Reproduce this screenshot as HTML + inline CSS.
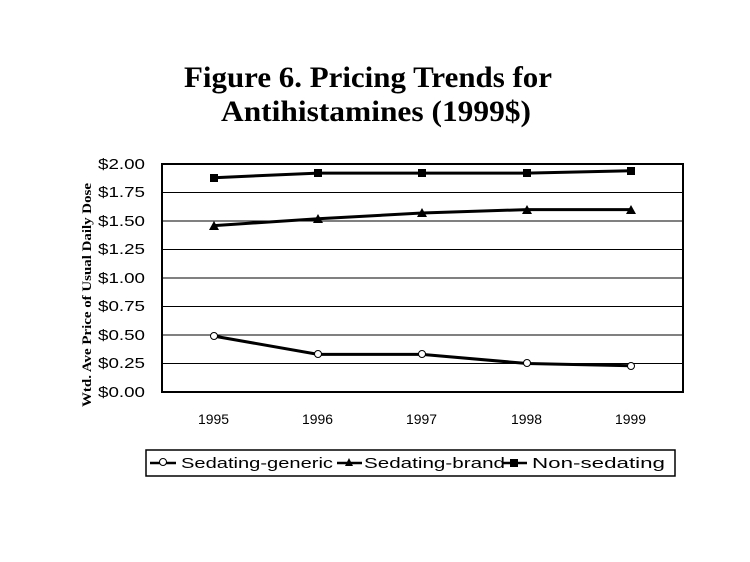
<!DOCTYPE html>
<html><head><style>
body{margin:0;background:#fff;}
svg{display:block;}
</style></head><body>
<svg width="750" height="562" xmlns="http://www.w3.org/2000/svg">
<rect width="750" height="562" fill="#fff"/>
<g font-family="Liberation Serif, serif" font-weight="bold" font-size="30" text-anchor="middle">
<text x="368" y="87" textLength="368" lengthAdjust="spacingAndGlyphs">Figure 6. Pricing Trends for</text>
<text x="376" y="121" textLength="310" lengthAdjust="spacingAndGlyphs">Antihistamines (1999$)</text>
</g>
<g stroke="#000" stroke-width="1">
<line x1="162" y1="192.5" x2="683" y2="192.5"/>
<line x1="162" y1="221" x2="683" y2="221"/>
<line x1="162" y1="249.5" x2="683" y2="249.5"/>
<line x1="162" y1="278" x2="683" y2="278"/>
<line x1="162" y1="306.5" x2="683" y2="306.5"/>
<line x1="162" y1="335" x2="683" y2="335"/>
<line x1="162" y1="363.5" x2="683" y2="363.5"/>
</g>
<rect x="162" y="164" width="521" height="228" fill="none" stroke="#000" stroke-width="2"/>
<g font-family="Liberation Sans, sans-serif" font-size="15">
<text x="98" y="169" textLength="47" lengthAdjust="spacingAndGlyphs">$2.00</text>
<text x="98" y="197" textLength="47" lengthAdjust="spacingAndGlyphs">$1.75</text>
<text x="98" y="226" textLength="47" lengthAdjust="spacingAndGlyphs">$1.50</text>
<text x="98" y="254" textLength="47" lengthAdjust="spacingAndGlyphs">$1.25</text>
<text x="98" y="283" textLength="47" lengthAdjust="spacingAndGlyphs">$1.00</text>
<text x="98" y="311" textLength="47" lengthAdjust="spacingAndGlyphs">$0.75</text>
<text x="98" y="340" textLength="47" lengthAdjust="spacingAndGlyphs">$0.50</text>
<text x="98" y="368" textLength="47" lengthAdjust="spacingAndGlyphs">$0.25</text>
<text x="98" y="397" textLength="47" lengthAdjust="spacingAndGlyphs">$0.00</text>
</g>
<g font-family="Liberation Sans, sans-serif" font-size="14">
<text x="198" y="424" textLength="31" lengthAdjust="spacingAndGlyphs">1995</text>
<text x="302" y="424" textLength="31" lengthAdjust="spacingAndGlyphs">1996</text>
<text x="406" y="424" textLength="31" lengthAdjust="spacingAndGlyphs">1997</text>
<text x="511" y="424" textLength="31" lengthAdjust="spacingAndGlyphs">1998</text>
<text x="615" y="424" textLength="31" lengthAdjust="spacingAndGlyphs">1999</text>
</g>
<text transform="translate(91,295) rotate(-90)" font-family="Liberation Serif, serif" font-weight="bold" font-size="13" text-anchor="middle" textLength="224" lengthAdjust="spacingAndGlyphs">Wtd. Ave Price of Usual Daily Dose</text>
<g stroke="#000" stroke-width="3" fill="none">
<polyline points="214,177.7 318,173.1 422,173.1 527,173.1 631,170.8"/>
<polyline points="214,225.6 318,218.7 422,213 527,209.6 631,209.6"/>
<polyline points="214,336.1 318,354.4 422,354.4 527,363.5 631,365.8"/>
</g>
<g fill="#000">
<rect x="210" y="174" width="8" height="8"/><rect x="314" y="169" width="8" height="8"/><rect x="418" y="169" width="8" height="8"/><rect x="523" y="169" width="8" height="8"/><rect x="627" y="167" width="8" height="8"/>
<polygon points="214,221 209,230 219,230"/><polygon points="318,214 313,223 323,223"/><polygon points="422,208 417,217 427,217"/><polygon points="527,205 522,214 532,214"/><polygon points="631,205 626,214 636,214"/>
</g>
<g fill="#fff" stroke="#000" stroke-width="1">
<circle cx="214" cy="336" r="3.5"/><circle cx="318" cy="354" r="3.5"/><circle cx="422" cy="354" r="3.5"/><circle cx="527" cy="363" r="3.5"/><circle cx="631" cy="366" r="3.5"/>
</g>
<rect x="146" y="450" width="529" height="26" fill="none" stroke="#000" stroke-width="1.5"/>
<g stroke="#000" stroke-width="2.5">
<line x1="150" y1="463" x2="176" y2="463"/>
<line x1="337" y1="463" x2="362" y2="463"/>
<line x1="502" y1="463" x2="527" y2="463"/>
</g>
<circle cx="163" cy="462" r="3.5" fill="#fff" stroke="#000"/>
<polygon points="349,458 345,466 353,466" fill="#000"/>
<rect x="510" y="459" width="8" height="8" fill="#000"/>
<g font-family="Liberation Sans, sans-serif" font-size="15">
<text x="181" y="468" textLength="152" lengthAdjust="spacingAndGlyphs">Sedating-generic</text>
<text x="364" y="468" textLength="141" lengthAdjust="spacingAndGlyphs">Sedating-brand</text>
<text x="532" y="468" textLength="133" lengthAdjust="spacingAndGlyphs">Non-sedating</text>
</g>
</svg>
</body></html>
